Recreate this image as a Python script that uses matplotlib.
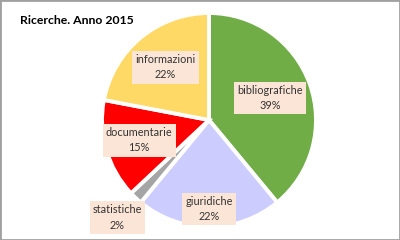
import numpy as np
import matplotlib.pyplot as plt
from matplotlib.patches import Rectangle

# dati
categorie = ["bibliografiche", "giuridiche", "statistiche", "documentarie", "informazioni"]
percentuali = [39, 22, 2, 15, 22]
colori = ["#70AD47", "#CCCCFF", "#A5A5A5", "#FF0000", "#FFD966"]
dist_etichette = [0.61, 0.83, 1.25, 0.68, 0.64]

plt.rcParams["font.family"] = ["Lato", "DejaVu Sans"]

fig = plt.figure(figsize=(4, 2.4), dpi=100)
ax = fig.add_axes([0.255, 0.054, 0.535, 0.892])

wedges, _ = ax.pie(percentuali, colors=colori, startangle=90, counterclock=False,
                   wedgeprops=dict(edgecolor="white", linewidth=2.8))
ax.set_xlim(-1, 1)
ax.set_ylim(-1, 1)
ax.set_aspect("equal")
ax.axis("off")

# etichette
for w, nome, p, d in zip(wedges, categorie, percentuali, dist_etichette):
    ang = np.deg2rad((w.theta1 + w.theta2) / 2)
    ax.text(d * np.cos(ang), d * np.sin(ang), f"{nome}\n{p}%",
            ha="center", va="center", fontsize=7.8, color="#333333",
            linespacing=1.45,
            bbox=dict(boxstyle="square,pad=0.3", facecolor="#FBE5D6", edgecolor="none"),
            clip_on=False)

fig.text(0.05, 0.915, "Ricerche. Anno 2015", fontsize=8.8, fontweight="bold",
         ha="left", va="center", color="black")

fig.patches.append(Rectangle((0, 0), 1, 1, transform=fig.transFigure, fill=False,
                             edgecolor="#A0A0A0", linewidth=2))

fig.savefig("out.png", dpi=100)
